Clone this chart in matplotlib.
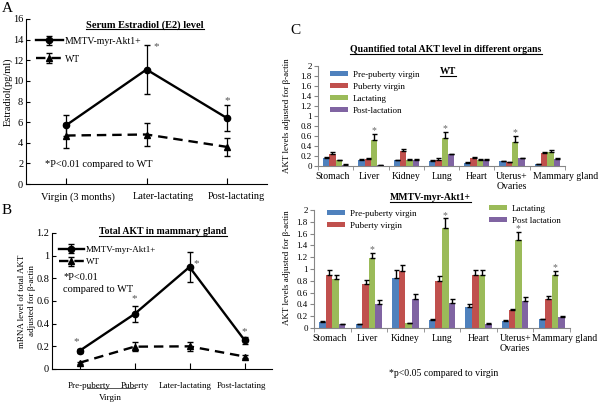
import numpy as np
import matplotlib
matplotlib.use('Agg')
import matplotlib.pyplot as plt
import matplotlib.transforms as mtransforms
from matplotlib.lines import Line2D

plt.rcParams['font.family'] = ['Liberation Serif', 'DejaVu Serif']

# Painel A - estradiol
est_cats = ['Virgin (3 months)', 'Later-lactating', 'Post-lactating']
est_mmtv = [5.7, 11.1, 6.4]
est_mmtv_err = [1.0, 2.4, 1.3]
est_wt = [4.7, 4.8, 3.6]
est_wt_err = [1.2, 1.15, 0.85]

# Painel B - AKT total na glandula mamaria
akt_cats = ['Pre-puberty', 'Puberty', 'Later-lactating', 'Post-lactating']
akt_mmtv = [0.16, 0.485, 0.90, 0.255]
akt_mmtv_err = [0.02, 0.07, 0.135, 0.03]
akt_wt = [0.055, 0.197, 0.20, 0.11]
akt_wt_err = [0.01, 0.04, 0.04, 0.015]

# Painel C - orgaos
orgaos = ['Stomach', 'Liver', 'Kidney', 'Lung', 'Heart', 'Uterus+\nOvaries', 'Mammary gland']
grupos_wt = ['Pre-puberty virgin', 'Puberty virgin', 'Lactating', 'Post-lactation']
grupos_tg = ['Pre-puberty virgin', 'Puberty virgin', 'Lactating', 'Post lactation']
cores = ['#4F81BD', '#C0504D', '#9BBB59', '#8064A2']

wt_vals = [
    [0.16, 0.13, 0.12, 0.10, 0.07, 0.10, 0.04],
    [0.25, 0.15, 0.30, 0.125, 0.165, 0.08, 0.26],
    [0.12, 0.52, 0.13, 0.56, 0.125, 0.49, 0.28],
    [0.03, 0.02, 0.13, 0.24, 0.125, 0.16, 0.145],
]
wt_err = [
    [0.02, 0.01, 0.01, 0.02, 0.01, 0.01, 0.005],
    [0.04, 0.02, 0.05, 0.03, 0.01, 0.01, 0.03],
    [0.01, 0.12, 0.01, 0.12, 0.02, 0.11, 0.04],
    [0.005, 0.003, 0.01, 0.01, 0.01, 0.01, 0.01],
]
wt_sig = [1, 3, 5]

tg_vals = [
    [0.10, 0.065, 0.85, 0.14, 0.35, 0.12, 0.15],
    [0.90, 0.74, 0.97, 0.80, 0.90, 0.30, 0.49],
    [0.83, 1.18, 0.08, 1.69, 0.90, 1.49, 0.90],
    [0.065, 0.41, 0.49, 0.42, 0.07, 0.45, 0.18],
]
tg_err = [
    [0.02, 0.01, 0.13, 0.02, 0.06, 0.02, 0.01],
    [0.08, 0.08, 0.10, 0.08, 0.09, 0.03, 0.05],
    [0.07, 0.09, 0.01, 0.17, 0.08, 0.14, 0.07],
    [0.01, 0.07, 0.08, 0.07, 0.01, 0.07, 0.03],
]
tg_sig = [1, 3, 5, 6]

W, H = 600, 403
fig = plt.figure(figsize=(W / 100, H / 100), dpi=100)


def ax_px(x0, y0, x1, y1):
    # caixa em pixels (topo-esquerda) -> fracao da figura
    return fig.add_axes([x0 / W, 1 - y1 / H, (x1 - x0) / W, (y1 - y0) / H])


def txt(x, y, s, **kw):
    kw.setdefault('ha', 'left')
    kw.setdefault('va', 'center')
    return fig.text(x / W, 1 - y / H, s, **kw)


def desloca_labels(ax, dxs):
    # empurra os rotulos do eixo x alguns pixels para a direita
    for lab, dx in zip(ax.get_xticklabels(), dxs):
        lab.set_transform(lab.get_transform() + mtransforms.ScaledTranslation(dx / 100, 0, fig.dpi_scale_trans))


sublinhar = []

# ---------------- A ----------------
axA = ax_px(26, 19, 267, 184)
xa = np.arange(len(est_cats))
axA.errorbar(xa, est_mmtv, yerr=est_mmtv_err, color='black', lw=1.7, marker='o', ms=4.5,
             capsize=2.5, elinewidth=0.9, label='MMTV-myr-Akt1+')
axA.errorbar(xa, est_wt, yerr=est_wt_err, color='black', lw=1.7, ls='--', dashes=(4, 2.5),
             marker='^', ms=5, capsize=2.5, elinewidth=0.9, label='WT')
axA.set_xlim(-0.5, 2.5)
axA.set_ylim(0, 16)
axA.set_yticks(range(0, 17, 2))
axA.set_xticks(xa)
axA.set_xticklabels(est_cats)
axA.tick_params(axis='x', direction='in', length=4, pad=6, labelsize=7.5)
axA.tick_params(axis='y', direction='in', length=3, pad=2, labelsize=7.5)
desloca_labels(axA, [12, 17, 10])
for s in ['top', 'right']:
    axA.spines[s].set_visible(False)
axA.annotate('*', xy=(1, est_mmtv[1] + est_mmtv_err[1]), xytext=(10, -2), textcoords='offset pixels',
             fontsize=8, color='#555555', ha='center', va='center')
axA.annotate('*', xy=(2, est_mmtv[2] + est_mmtv_err[2]), xytext=(0, 4), textcoords='offset pixels',
             fontsize=8, color='#555555', ha='center', va='center')
axA.legend(loc='upper left', bbox_to_anchor=(32 / W, 1 - 33 / H), bbox_transform=fig.transFigure,
           frameon=False, fontsize=7, handlelength=2.8, handletextpad=0.2, labelspacing=0.9,
           borderaxespad=0)
txt(8, 92, 'Estradiol(pg/ml)', rotation=90, ha='center', fontsize=7.5)
txt(45, 164, '*P<0.01 compared to WT', fontsize=7.5)
t = txt(145, 25, 'Serum Estradiol (E2) level', ha='center', fontsize=7.5, weight='bold')
sublinhar.append(t)
txt(2, 9, 'A', fontsize=11)

# ---------------- B ----------------
axB = ax_px(52, 233, 272, 369)
xb = np.arange(len(akt_cats))
axB.errorbar(xb, akt_mmtv, yerr=akt_mmtv_err, color='black', lw=1.7, marker='o', ms=4.5,
             capsize=2.5, elinewidth=0.9, label='MMTV-myr-Akt1+')
axB.errorbar(xb, akt_wt, yerr=akt_wt_err, color='black', lw=1.7, ls='--', dashes=(4, 2.5),
             marker='^', ms=5, capsize=2.5, elinewidth=0.9, label='WT')
axB.set_xlim(-0.5, 3.5)
axB.set_ylim(0, 1.2)
axB.set_yticks([0, 0.2, 0.4, 0.6, 0.8, 1, 1.2])
axB.set_yticklabels(['0', '0.2', '0.4', '0.6', '0.8', '1', '1.2'])
axB.set_xticks(xb)
axB.set_xticklabels(akt_cats)
axB.tick_params(axis='x', direction='in', length=4, pad=9, labelsize=6.5)
axB.tick_params(axis='y', direction='in', length=3, pad=2, labelsize=7.5)
desloca_labels(axB, [10, 0, -4, -3])
for s in ['top', 'right']:
    axB.spines[s].set_visible(False)
for i, (dx, dy) in enumerate([(-3, 7), (0, 7), (7, -12), (0, 5)]):
    axB.annotate('*', xy=(i, akt_mmtv[i] + akt_mmtv_err[i]), xytext=(dx, dy), textcoords='offset pixels',
                 fontsize=8, color='#555555', ha='center', va='center')
axB.legend(loc='upper left', bbox_to_anchor=(55 / W, 1 - 242 / H), bbox_transform=fig.transFigure,
           frameon=False, fontsize=6.5, handlelength=2.8, handletextpad=0.2, labelspacing=0.45,
           borderaxespad=0)
txt(22, 301, 'mRNA level of total AKT', rotation=90, ha='center', fontsize=6.5)
txt(32, 301, 'adjusted for β-actin', rotation=90, ha='center', fontsize=6.5)
txt(63, 277, '*P<0.01', fontsize=7.5)
txt(63, 290, 'compared to WT', fontsize=7.5)
t = txt(163, 232, 'Total AKT in mammary gland', ha='center', fontsize=7, weight='bold')
sublinhar.append(t)
fig.add_artist(Line2D([87 / W, 135 / W], [1 - 388 / H, 1 - 388 / H], color='#555555', lw=0.7))
txt(110, 398, 'Virgin', ha='center', fontsize=6.5)
txt(2, 211, 'B', fontsize=11)


# ---------------- C ----------------
def barras(ax, vals, errs, sig, labels, dx_mammary):
    x = np.arange(len(orgaos))
    w = 0.18
    for k in range(4):
        pos = x + (k - 1.5) * w
        ax.bar(pos, vals[k], w, color=cores[k], label=labels[k])
        ax.errorbar(pos, vals[k], yerr=[np.zeros(len(errs[k])), errs[k]], fmt='none',
                    ecolor='black', elinewidth=1.0, capsize=1.8, capthick=1.0)
    for i in sig:
        ax.annotate('*', xy=(i + 0.5 * w, vals[2][i] + errs[2][i]), xytext=(0, 3),
                    textcoords='offset pixels', fontsize=7, color='#666666', ha='center', va='center')
    ax.set_xlim(-0.5, len(orgaos) - 0.5)
    ax.set_ylim(0, 2)
    ax.set_yticks(np.arange(0, 2.01, 0.2))
    ax.set_yticklabels(['0', '0.2', '0.4', '0.6', '0.8', '1', '1.2', '1.4', '1.6', '1.8', '2'])
    ax.set_xticks(x)
    ax.set_xticklabels(orgaos)
    ax.set_xticks(np.arange(-0.5, len(orgaos)), minor=True)
    ax.tick_params(axis='x', which='major', length=0, pad=4, labelsize=7)
    ax.tick_params(axis='x', which='minor', direction='out', length=3, color='#868686')
    ax.tick_params(axis='y', direction='out', length=3, pad=1.5, labelsize=6.5, color='#868686')
    desloca_labels(ax, [-3, -2, 0, 0, 0, 0, dx_mammary])
    for s in ['top', 'right']:
        ax.spines[s].set_visible(False)
    for s in ['left', 'bottom']:
        ax.spines[s].set_color('#868686')


axC1 = ax_px(318, 66, 565, 166)
barras(axC1, wt_vals, wt_err, wt_sig, grupos_wt, 18)
axC1.legend(loc='upper left', bbox_to_anchor=(326 / W, 1 - 67 / H), bbox_transform=fig.transFigure,
            frameon=False, fontsize=6.5, handlelength=2.0, handleheight=0.5, handletextpad=0.6,
            labelspacing=0.45, borderaxespad=0)
txt(287, 116, 'AKT levels adjusted for β-actin', rotation=90, ha='center', fontsize=6.5)

axC2 = ax_px(314, 210, 570, 328)
barras(axC2, tg_vals, tg_err, tg_sig, grupos_tg, 13)
h, l = axC2.get_legend_handles_labels()
leg1 = axC2.legend(h[:2], l[:2], loc='upper left', bbox_to_anchor=(323 / W, 1 - 206 / H),
                   bbox_transform=fig.transFigure, frameon=False, fontsize=6.5, handlelength=2.0,
                   handleheight=0.5, handletextpad=0.6, labelspacing=0.45, borderaxespad=0)
axC2.add_artist(leg1)
axC2.legend(h[2:], l[2:], loc='upper left', bbox_to_anchor=(485 / W, 1 - 201 / H),
            bbox_transform=fig.transFigure, frameon=False, fontsize=6.5, handlelength=2.0,
            handleheight=0.5, handletextpad=0.6, labelspacing=0.45, borderaxespad=0)
txt(287, 268, 'AKT levels adjusted for β-actin', rotation=90, ha='center', fontsize=6.5)

t = txt(446, 50, 'Quantified total AKT level in different organs', ha='center', fontsize=7, weight='bold')
sublinhar.append(t)
t = txt(448, 72, 'WT', ha='center', fontsize=7, weight='bold')
sublinhar.append(t)
t = txt(430, 198, 'MMTV-myr-Akt1+', ha='center', fontsize=7, weight='bold')
sublinhar.append(t)
txt(444, 373, '*p<0.05 compared to virgin', ha='center', fontsize=7)
txt(290, 31, 'C', fontsize=11)

# sublinhado dos titulos
fig.canvas.draw()
r = fig.canvas.get_renderer()
for t in sublinhar:
    bb = t.get_window_extent(r)
    y = bb.y0 + 0.5
    fig.add_artist(Line2D([bb.x0 / W, bb.x1 / W], [y / H, y / H], color='black', lw=0.8))

fig.savefig('out.png', dpi=100)
